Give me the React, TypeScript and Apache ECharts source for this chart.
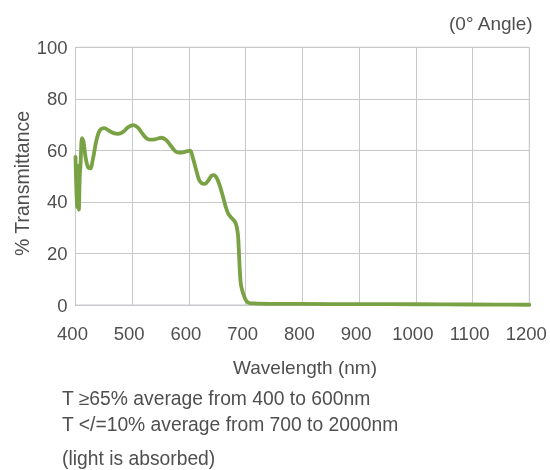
import React, { useEffect, useRef } from "react";
import * as echarts from "echarts";

const wavelengths = [
  400, 401.5, 403, 404.5, 406, 407.5, 409, 411.5, 414, 418, 422, 426, 431, 437, 443, 451, 458, 466,
  475, 484, 493, 502, 510, 518, 525, 531, 540, 552, 560, 568, 576, 584, 594, 602, 607, 612, 618, 623,
  628, 634, 640, 644, 649, 654, 660, 665, 669, 675, 681, 684, 686.5, 688, 689.5, 691.3, 693.5, 696,
  700, 704.6, 715, 743, 800, 900, 1000, 1100, 1200,
];
const transmittance = [
  57.5, 45, 38, 54, 37, 50, 55, 64.7, 63.5, 57, 53.5, 53, 57, 64, 67.8, 68.6, 67.8, 66.8,
  66.4, 67.2, 69, 69.8, 68.8, 66.5, 64.7, 64.2, 64.3, 64.9, 64, 61.8, 59.7, 59.1, 59.5, 59.9, 57, 53, 48.5, 47.2,
  47, 48.3, 50.2, 50.4, 49.3, 46.5, 42, 38, 35.6, 33.8, 32.3, 30.5, 27, 21, 14, 8.4, 6, 4.2,
  2, 0.9, 0.6, 0.45, 0.4, 0.35, 0.3, 0.2, 0.1,
];
const xTicks = [400, 500, 600, 700, 800, 900, 1000, 1100, 1200];
const yTicks = [0, 20, 40, 60, 80, 100];
const xTitle = "Wavelength (nm)";
const yTitle = "% Transmittance";
const notes = [
  "T \u226565% average from 400 to 600nm",
  "T </=10% average from 700 to 2000nm",
  "(light is absorbed)",
];
const angleLabel = "(0\u00b0 Angle)";

const FONT = "Liberation Sans, Arial, Helvetica, sans-serif";
const TEXT = "#4f4f4f";
const GRID = "#c6c8cb";
const GREEN = "#78a243";

export default function App() {
  const ref = useRef<HTMLDivElement>(null);
  useEffect(() => {
    if (!ref.current) return;
    const chart = echarts.init(ref.current, undefined, { renderer: "svg" });
    const data = wavelengths.map((w, i) => [w, transmittance[i]]);
    chart.setOption({
      animation: false,
      textStyle: { fontFamily: FONT },
      grid: { left: 75.5, right: 20.7, top: 47.3, bottom: 165, show: true, borderColor: GRID, borderWidth: 1 },
      xAxis: {
        type: "value",
        min: xTicks[0],
        max: xTicks[xTicks.length - 1],
        interval: 100,
        axisLine: { show: true, lineStyle: { color: GRID } },
        axisTick: { show: false },
        axisLabel: {
          color: TEXT,
          fontSize: 18.5,
          margin: 19,
          fontFamily: FONT,
          padding: [0, 6, 0, 0],
          formatter: (v: number) => String(v),
        },
        splitLine: { show: true, lineStyle: { color: GRID, width: 1 } },
      },
      yAxis: {
        type: "value",
        min: yTicks[0],
        max: yTicks[yTicks.length - 1],
        interval: 20,
        axisLine: { show: true, lineStyle: { color: GRID } },
        axisTick: { show: false },
        axisLabel: { color: TEXT, fontSize: 18.5, margin: 8, fontFamily: FONT },
        splitLine: { show: true, lineStyle: { color: GRID, width: 1 } },
      },
      series: [
        {
          type: "line",
          data,
          showSymbol: false,
          smooth: 0.35,
          lineStyle: { color: GREEN, width: 3.8, join: "round", cap: "round" },
          itemStyle: { color: GREEN },
        },
      ],
      graphic: [
        {
          type: "text",
          x: 532.7,
          y: 23,
          style: { text: angleLabel, fill: TEXT, fontSize: 19, fontFamily: FONT, align: "right", verticalAlign: "middle" },
        },
        {
          type: "text",
          x: 305,
          y: 367.5,
          style: { text: xTitle, fill: TEXT, fontSize: 19, fontFamily: FONT, align: "center", verticalAlign: "middle" },
        },
        {
          type: "text",
          x: 21.5,
          y: 183.5,
          rotation: Math.PI / 2,
          style: { text: yTitle, fill: TEXT, fontSize: 19.5, fontFamily: FONT, align: "center", verticalAlign: "middle" },
        },
        ...notes.map((t, i) => ({
          type: "text",
          x: 62,
          y: [398.3, 424.7, 458.5][i],
          style: { text: t, fill: TEXT, fontSize: 19.3, fontFamily: FONT, align: "left", verticalAlign: "middle" },
        })),
      ],
    });
    return () => chart.dispose();
  }, []);
  return <div ref={ref} style={{ position: "fixed", left: 0, top: 0, width: 550, height: 470 }} />;
}
